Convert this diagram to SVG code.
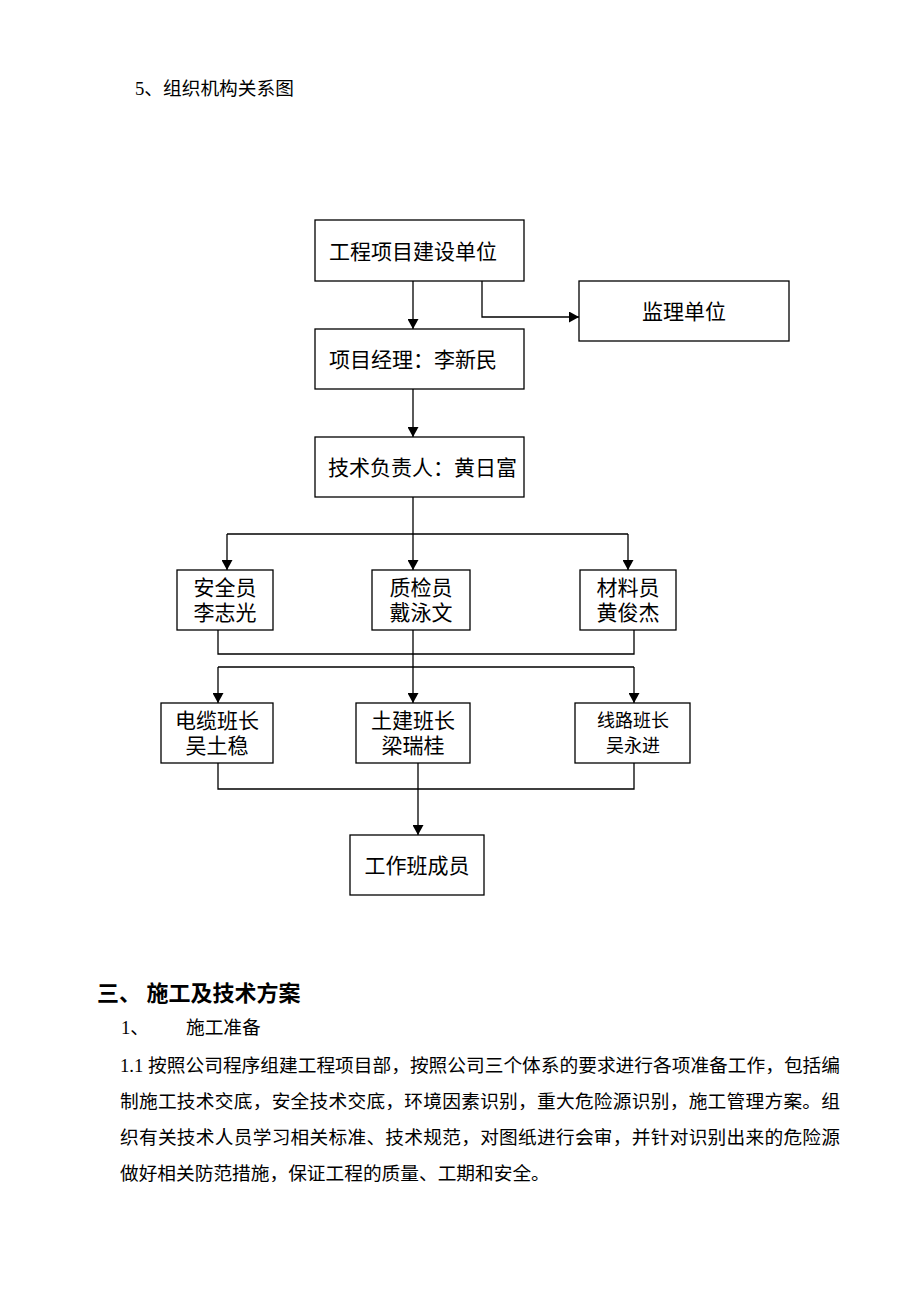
<svg xmlns="http://www.w3.org/2000/svg" width="920" height="1302" viewBox="0 0 920 1302">
<defs>
<style>
.bx{fill:#fff;stroke:#000;stroke-width:1.3}
.ln{fill:none;stroke:#000;stroke-width:1.3}
.t{font-family:"Liberation Serif","Noto Sans CJK SC",serif;fill:#000}
.b{font-size:21px}
.s{font-size:18px}
.p{font-size:18.7px}
.h{font-size:22px;font-weight:bold}
.m{text-anchor:middle}
</style>
<marker id="arr" markerUnits="userSpaceOnUse" markerWidth="10" markerHeight="11" refX="10" refY="5.5" orient="auto" viewBox="0 0 10 11">
<path d="M0,0 L10,5.5 L0,11 z" fill="#000"/>
</marker>
</defs>
<rect width="920" height="1302" fill="#fff"/>

<text class="t p" x="135" y="95">5、组织机构关系图</text>

<g id="connectors">
<path class="ln" d="M413,281 V329" marker-end="url(#arr)"/>
<path class="ln" d="M482,281 V317 H579" marker-end="url(#arr)"/>
<path class="ln" d="M413,389 V437" marker-end="url(#arr)"/>
<path class="ln" d="M413,497 V570" marker-end="url(#arr)"/>
<path class="ln" d="M227,534 H628"/>
<path class="ln" d="M227,534 V570" marker-end="url(#arr)"/>
<path class="ln" d="M628,534 V570" marker-end="url(#arr)"/>
<path class="ln" d="M218,630 V654 H634 V630"/>
<path class="ln" d="M413,630 V703" marker-end="url(#arr)"/>
<path class="ln" d="M218,667 H634"/>
<path class="ln" d="M218,667 V703" marker-end="url(#arr)"/>
<path class="ln" d="M634,667 V703" marker-end="url(#arr)"/>
<path class="ln" d="M218,763 V789 H634 V763"/>
<path class="ln" d="M418,763 V835" marker-end="url(#arr)"/>
</g>

<g id="n-owner">
<rect class="bx" x="315" y="220" width="209" height="61"/>
<text class="t b" x="329" y="258.5">工程项目建设单位</text>
</g>
<g id="n-supervisor">
<rect class="bx" x="579" y="281" width="210" height="60"/>
<text class="t b m" x="684" y="318.5">监理单位</text>
</g>
<g id="n-pm">
<rect class="bx" x="315" y="329" width="209" height="60"/>
<text class="t b" x="329" y="366.5">项目经理：李新民</text>
</g>
<g id="n-tech">
<rect class="bx" x="315" y="437" width="209" height="60"/>
<text class="t b" x="328" y="474.5">技术负责人：黄日富</text>
</g>
<g id="n-safety">
<rect class="bx" x="177" y="570" width="96" height="60"/>
<text class="t b m" x="225" y="594.5">安全员</text>
<text class="t b m" x="225" y="619.5">李志光</text>
</g>
<g id="n-quality">
<rect class="bx" x="372" y="570" width="98" height="60"/>
<text class="t b m" x="421" y="594.5">质检员</text>
<text class="t b m" x="421" y="619.5">戴泳文</text>
</g>
<g id="n-material">
<rect class="bx" x="580" y="570" width="96" height="60"/>
<text class="t b m" x="628" y="594.5">材料员</text>
<text class="t b m" x="628" y="619.5">黄俊杰</text>
</g>
<g id="n-cable">
<rect class="bx" x="161" y="703" width="112" height="60"/>
<text class="t b m" x="217" y="727.5">电缆班长</text>
<text class="t b m" x="217" y="752.5">吴土稳</text>
</g>
<g id="n-civil">
<rect class="bx" x="356" y="703" width="114" height="60"/>
<text class="t b m" x="413" y="727.5">土建班长</text>
<text class="t b m" x="413" y="752.5">梁瑞桂</text>
</g>
<g id="n-line">
<rect class="bx" x="575" y="703" width="115" height="60"/>
<text class="t s m" x="633" y="727">线路班长</text>
<text class="t s m" x="633" y="752">吴永进</text>
</g>
<g id="n-crew">
<rect class="bx" x="350" y="835" width="134" height="60"/>
<text class="t b m" x="417" y="872.5">工作班成员</text>
</g>

<text class="t h" x="97" y="1001">三、 施工及技术方案</text>
<text class="t p" x="121" y="1034">1、<tspan x="186">施工准备</tspan></text>
<text class="t p" x="120" y="1072" textLength="720" lengthAdjust="spacing">1.1 按照公司程序组建工程项目部，按照公司三个体系的要求进行各项准备工作，包括编</text>
<text class="t p" x="120" y="1108" textLength="720" lengthAdjust="spacing">制施工技术交底，安全技术交底，环境因素识别，重大危险源识别，施工管理方案。组</text>
<text class="t p" x="120" y="1144" textLength="720" lengthAdjust="spacing">织有关技术人员学习相关标准、技术规范，对图纸进行会审，并针对识别出来的危险源</text>
<text class="t p" x="120" y="1180">做好相关防范措施，保证工程的质量、工期和安全。</text>
</svg>
